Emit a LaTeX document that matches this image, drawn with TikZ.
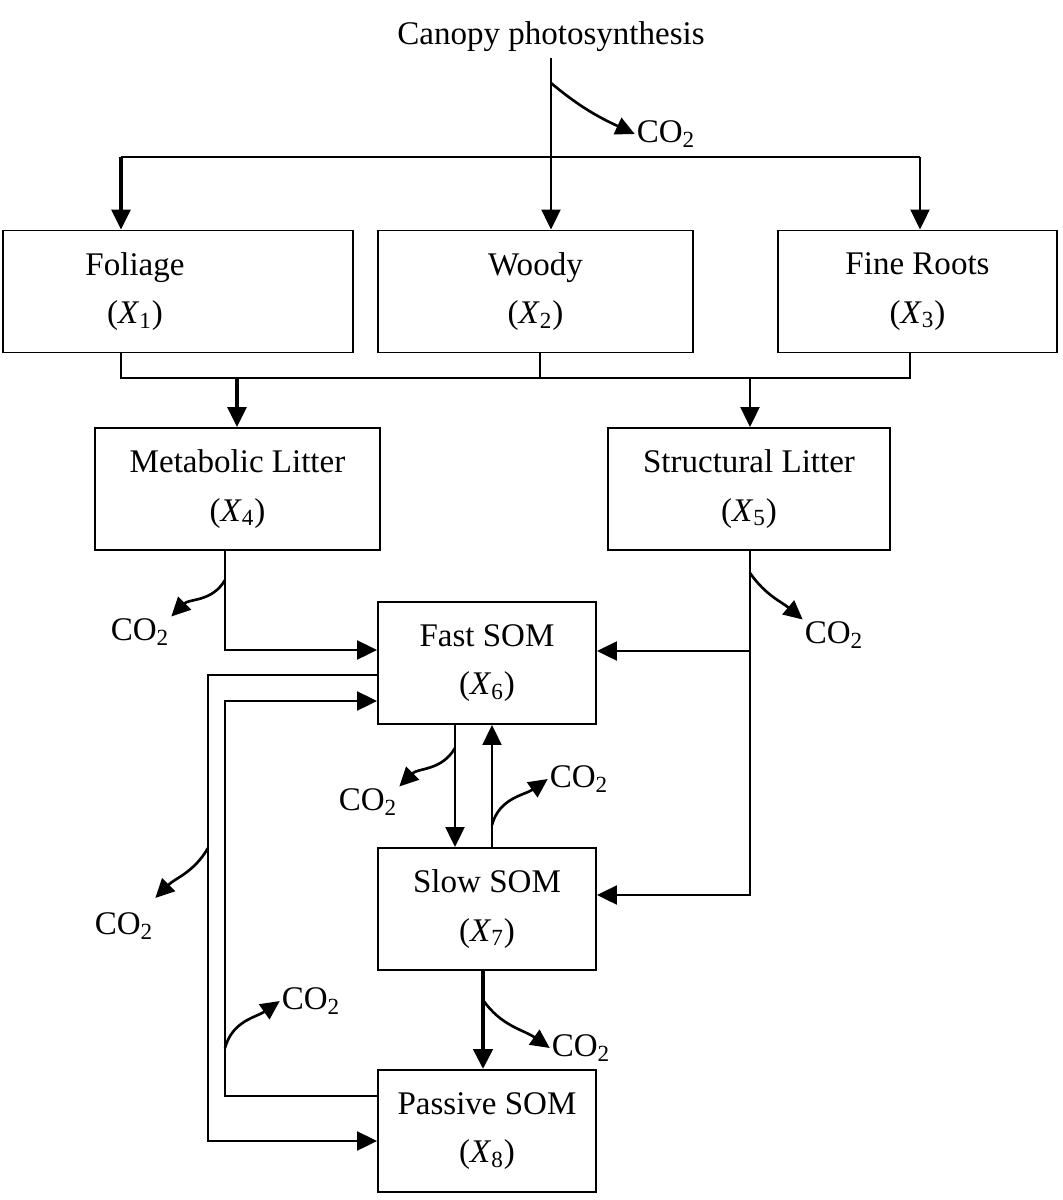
\documentclass[tikz,border=0pt]{standalone}
\usepackage{fontspec}
\setmainfont{Liberation Serif}
\usetikzlibrary{arrows.meta}
\tikzset{
  pool/.style={draw, line width=1.1pt, align=center, inner sep=0pt, minimum height=2.44cm},
  flow/.style={line width=1.2pt, -{Triangle[length=4mm,width=3.8mm]}},
  bigflow/.style={flow, line width=1.8pt},
  link/.style={line width=1.2pt},
  resp/.style={line width=1.5pt, -{Triangle[length=3.8mm,width=3.6mm]}},
  gas/.style={inner sep=1pt},
}
\newcommand{\cotwo}{CO\textsubscript{2}}
\newcommand{\poolx}[1]{(\textit{X}\textsubscript{#1})}
\begin{document}
\begin{tikzpicture}[x=0.02cm, y=-0.02cm, font=\fontsize{18.8}{27.5}\selectfont]
                \useasboundingbox (0,0) rectangle (1062,1200);
                \node (canopy) at (551,37) {Canopy photosynthesis};
                \node[pool, minimum width=7cm, label={[align=center,xshift=-0.86cm]center:{Foliage\\\poolx{1}}}] (fol) at (178,291.5) {};
                \node[pool, minimum width=6.3cm] (woody) at (535.5,291.5) {Woody\\\poolx{2}};
                \node[pool, minimum width=5.58cm] (roots) at (917.5,291.5) {Fine Roots\\\poolx{3}};
                \node[pool, minimum width=5.7cm] (metab) at (237.5,489) {Metabolic Litter\\\poolx{4}};
                \node[pool, minimum width=5.64cm] (struct) at (749,489) {Structural Litter\\\poolx{5}};
                \node[pool, minimum width=4.36cm] (fast) at (487,663) {Fast SOM\\\poolx{6}};
                \node[pool, minimum width=4.36cm] (slow) at (487,909) {Slow SOM\\\poolx{7}};
                \node[pool, minimum width=4.36cm] (passive) at (487,1131) {Passive SOM\\\poolx{8}};

                \node[gas] (g0) at (666,134) {\cotwo};
                \node[gas] (g1) at (140,632) {\cotwo};
                \node[gas] (g2) at (834,635) {\cotwo};
                \node[gas] (g3) at (368,802) {\cotwo};
                \node[gas] (g4) at (579,779) {\cotwo};
                \node[gas] (g5) at (124,926) {\cotwo};
                \node[gas] (g6) at (311,1001) {\cotwo};
                \node[gas] (g7) at (581,1048) {\cotwo};

                \coordinate (lft) at (121,157); \coordinate (rgt) at (920,157);
                \coordinate (b1) at (121,378); \coordinate (b2) at (540,378); \coordinate (b3) at (910,378);
                \coordinate (m) at (237,378); \coordinate (s) at (750,378);
                \coordinate (mk) at (225,650); \coordinate (sk) at (750,895); \coordinate (sj) at (750,651);
                \coordinate (fs) at (455,786); \coordinate (sf) at (492,786); \coordinate (sp) at (483,1020);
                \coordinate (fp1) at (208,675); \coordinate (fp2) at (208,1141);
                \coordinate (pf1) at (225,1096); \coordinate (pf2) at (225,701);
                \coordinate (r0) at (551,83); \coordinate (r1) at (225,580); \coordinate (r2) at (750,573);
                \coordinate (r3) at (455,748); \coordinate (r4) at (492,825); \coordinate (r5) at (208,848);
                \coordinate (r6) at (225,1048); \coordinate (r7) at (483,1000);

                \draw[flow] (canopy) -- (canopy |- woody.north); \draw[link] (lft) -- (rgt);
                \draw[bigflow] (lft) -- (lft |- fol.north); \draw[flow] (rgt) -- (rgt |- roots.north);
                \draw[link] (fol.south -| b1) -- (b1) -- (b3) -- (roots.south -| b3); \draw[link] (woody.south -| b2) -- (b2);
                \draw[bigflow] (m) -- (m |- metab.north); \draw[flow] (s) -- (s |- struct.north);
                \draw[flow] (metab.south -| mk) -- (mk) -- (mk -| fast.west);
                \draw[flow] (struct.south -| sk) -- (sk) -- (sk -| slow.east); \draw[flow] (sj) -- (sj -| fast.east);
                \draw[flow] (fast.south -| fs) -- (slow.north -| fs); \draw[flow] (slow.north -| sf) -- (fast.south -| sf);
                \draw[flow] (fast.west |- fp1) -- (fp1) -- (fp2) -- (fp2 -| passive.west);
                \draw[flow] (passive.west |- pf1) -- (pf1) -- (pf2) -- (pf2 -| fast.west);
                \draw[flow, line width=2.6pt] (slow.south -| sp) -- (passive.north -| sp);

                \draw[resp] (r0) to[out=-40,in=155] (g0.west); \draw[resp] (r1) to[out=-120,in=45] (g1.north east);
                \draw[resp] (r2) to[out=-55,in=140] (g2.north west); \draw[resp] (r3) to[out=-120,in=45] (g3.north east);
                \draw[resp] (r4) to[out=75,in=-145] (g4.west); \draw[resp] (r5) to[out=-120,in=45] ([yshift=0.25cm]g5.north east);
                \draw[resp] (r6) to[out=75,in=-145] (g6.west); \draw[resp] (r7) to[out=-55,in=145] (g7.west);
            \end{tikzpicture}
\end{document}
